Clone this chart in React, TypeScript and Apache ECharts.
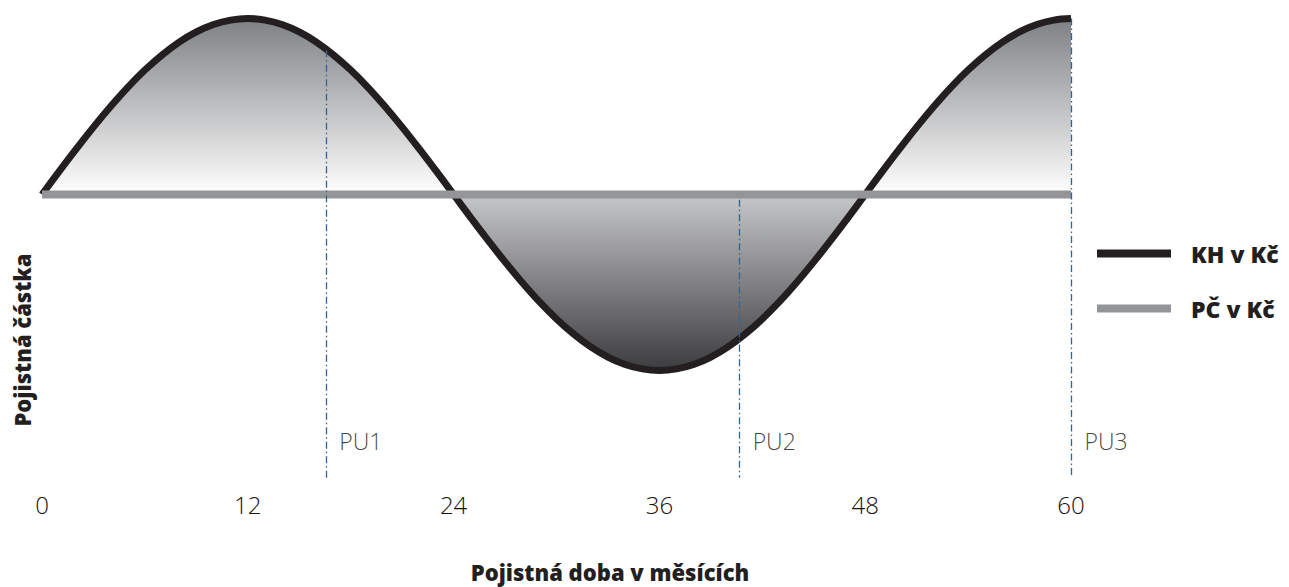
import React, { useEffect, useRef } from "react";
import * as echarts from "echarts";

const months = [
  0, 1, 2, 3, 4, 5, 6, 7, 8, 9, 10, 11, 12, 13, 14, 15, 16, 17, 18, 19, 20, 21, 22, 23, 24,
  25, 26, 27, 28, 29, 30, 31, 32, 33, 34, 35, 36, 37, 38, 39, 40, 41, 42, 43, 44, 45, 46, 47, 48,
  49, 50, 51, 52, 53, 54, 55, 56, 57, 58, 59, 60,
];
const khValues = [
  0, 13.1, 25.9, 38.3, 50, 60.9, 70.7, 79.3, 86.6, 92.4, 96.6, 99.1, 100, 99.1, 96.6, 92.4, 86.6, 79.3, 70.7, 60.9, 50, 38.3, 25.9, 13.1, 0,
  -13.1, -25.9, -38.3, -50, -60.9, -70.7, -79.3, -86.6, -92.4, -96.6, -99.1, -100, -99.1, -96.6, -92.4, -86.6, -79.3, -70.7, -60.9, -50, -38.3, -25.9, -13.1, 0,
  13.1, 25.9, 38.3, 50, 60.9, 70.7, 79.3, 86.6, 92.4, 96.6, 99.1, 100,
];
const pcMonths = [0, 60];
const pcValues = [0, 0];
const xTicks = [0, 12, 24, 36, 48, 60];
const puNames = ["PU1", "PU2", "PU3"];
const puMonths = [16.55, 40.65, 60];
const puStart = [82, -3, 100];
const puBottom = -161;
const puLabelY = -140;

const BOLD = "'Open Sans', Lato, sans-serif";
const LIGHT = "'Open Sans', Lato, sans-serif";

export default function App() {
  const ref = useRef<HTMLDivElement>(null);
  useEffect(() => {
    if (!ref.current) return;
    const chart = echarts.init(ref.current, null, { renderer: "svg" });
    const gradient = new echarts.graphic.LinearGradient(0, 0, 0, 1, [
      { offset: 0, color: "#7e8083" },
      { offset: 0.5, color: "#ffffff" },
      { offset: 0.5, color: "#c6c7c9" },
      { offset: 1, color: "#3c3c3e" },
    ]);
    chart.setOption({
      animation: false,
      grid: { left: 42, width: 1029, top: 18.5, height: 466.4 },
      xAxis: {
        type: "value",
        min: 0,
        max: 60,
        interval: 12,
        axisLine: { show: false },
        axisTick: { show: false },
        splitLine: { show: false },
        axisLabel: {
          fontFamily: LIGHT,
          fontWeight: 300,
          fontSize: 24,
          color: "#141112",
          margin: 8,
          formatter: (v: number) => (xTicks.includes(v) ? String(v) : ""),
        },
      },
      yAxis: {
        type: "value",
        min: -165,
        max: 100,
        show: false,
      },
      legend: {
        orient: "vertical",
        left: 1092,
        top: 237,
        itemGap: 32,
        itemWidth: 74,
        itemHeight: 8,
        icon: "rect",
        textStyle: {
          fontFamily: BOLD,
          fontWeight: 800,
          fontSize: 23,
          color: "#231f20",
          padding: [0, 0, 0, 15],
        },
        data: [
          { name: "KH v Kč", itemStyle: { color: "#231f20" } },
          { name: "PČ v Kč", itemStyle: { color: "#939598" } },
        ],
      },
      series: [
        {
          name: "KH v Kč",
          type: "line",
          smooth: 0.4,
          symbol: "none",
          z: 2,
          data: months.map((m, i) => [m, khValues[i]]),
          itemStyle: { color: "#231f20" },
          lineStyle: { color: "#231f20", width: 7 },
          areaStyle: { color: gradient, opacity: 1, origin: 0 },
        },
        {
          name: "PČ v Kč",
          type: "line",
          symbol: "none",
          z: 3,
          data: pcMonths.map((m, i) => [m, pcValues[i]]),
          itemStyle: { color: "#939598" },
          lineStyle: { color: "#939598", width: 8, cap: "butt" },
        },
        {
          name: "PU",
          type: "scatter",
          z: 4,
          symbolSize: 1,
          itemStyle: { color: "rgba(0,0,0,0)" },
          data: puNames.map((n, i) => [puMonths[i], puLabelY, n]),
          label: {
            show: true,
            position: "right",
            distance: 13,
            formatter: (p: any) => p.value[2],
            fontFamily: LIGHT,
            fontWeight: 300,
            fontSize: 23,
            color: "#141112",
          },
          markLine: {
            silent: true,
            symbol: "none",
            label: { show: false },
            lineStyle: { color: "#2f6497", width: 1.3, type: [7, 3, 1.5, 3] },
            data: puNames.map((n, i) => [
              { coord: [puMonths[i], puStart[i]] },
              { coord: [puMonths[i], puBottom] },
            ]),
          },
        },
      ],
      graphic: [
        {
          type: "text",
          x: 22,
          y: 340,
          rotation: Math.PI / 2,
          style: {
            text: "Pojistná částka",
            fontFamily: BOLD,
            fontWeight: 800,
            fontSize: 22,
            fill: "#231f20",
            align: "center",
            verticalAlign: "middle",
          },
        },
        {
          type: "text",
          x: 610,
          y: 572,
          style: {
            text: "Pojistná doba v měsících",
            fontFamily: BOLD,
            fontWeight: 800,
            fontSize: 22,
            fill: "#231f20",
            align: "center",
            verticalAlign: "middle",
          },
        },
      ],
    });
    return () => chart.dispose();
  }, []);
  return <div ref={ref} style={{ width: 1289, height: 587, position: "absolute", left: 0, top: 0 }} />;
}
